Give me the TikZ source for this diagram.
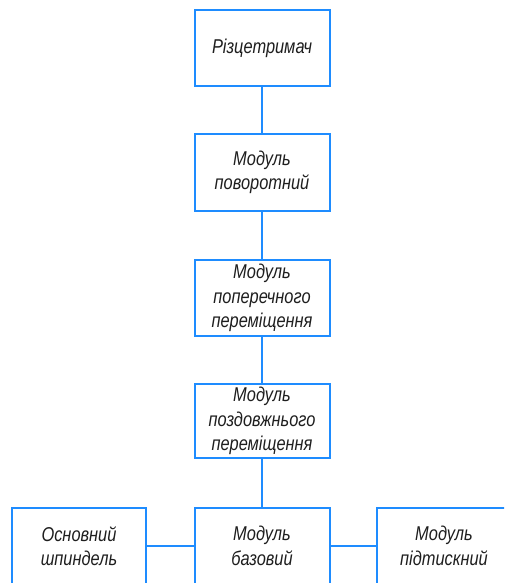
\documentclass[tikz,border=0pt]{standalone}
\usepackage{fontspec}
\newfontfamily\gost[FakeStretch=0.82]{Liberation Sans}
\definecolor{boxblue}{RGB}{30,140,255}
\definecolor{txt}{RGB}{30,30,30}
\tikzset{
  blk/.style={draw=boxblue, line width=2pt, minimum width=135pt, minimum height=76pt, inner sep=0pt, align=center, text=txt, font=\gost\itshape\fontsize{20}{24.5}\selectfont},
  lnk/.style={draw=boxblue, line width=2pt}
}
\begin{document}
\begin{tikzpicture}[x=1pt,y=-1pt]
\useasboundingbox (0,0) rectangle (504,583);
\clip (0,0) rectangle (504,583);
\node[blk] (a) at (262,48) {Різцетримач};
\node[blk, minimum height=77pt] (b) at (262,172.5) {Модуль\\поворотний};
\node[blk] (c) at (262,298) {Модуль\\поперечного\\переміщення};
\node[blk, minimum height=74pt] (d) at (262,421) {Модуль\\поздовжнього\\переміщення};
\node[blk] (e) at (262,546) {Модуль\\базовий};
\node[blk, minimum width=134pt] (f) at (79,546) {Основний\\шпиндель};
\node[blk, minimum width=134pt] (g) at (444,546) {Модуль\\підтискний};
\draw[lnk] (a.south) -- (b.north);
\draw[lnk] (b.south) -- (c.north);
\draw[lnk] (c.south) -- (d.north);
\draw[lnk] (d.south) -- (e.north);
\draw[lnk] (f.east) -- (e.west);
\draw[lnk] (e.east) -- (g.west);
\end{tikzpicture}
\end{document}
